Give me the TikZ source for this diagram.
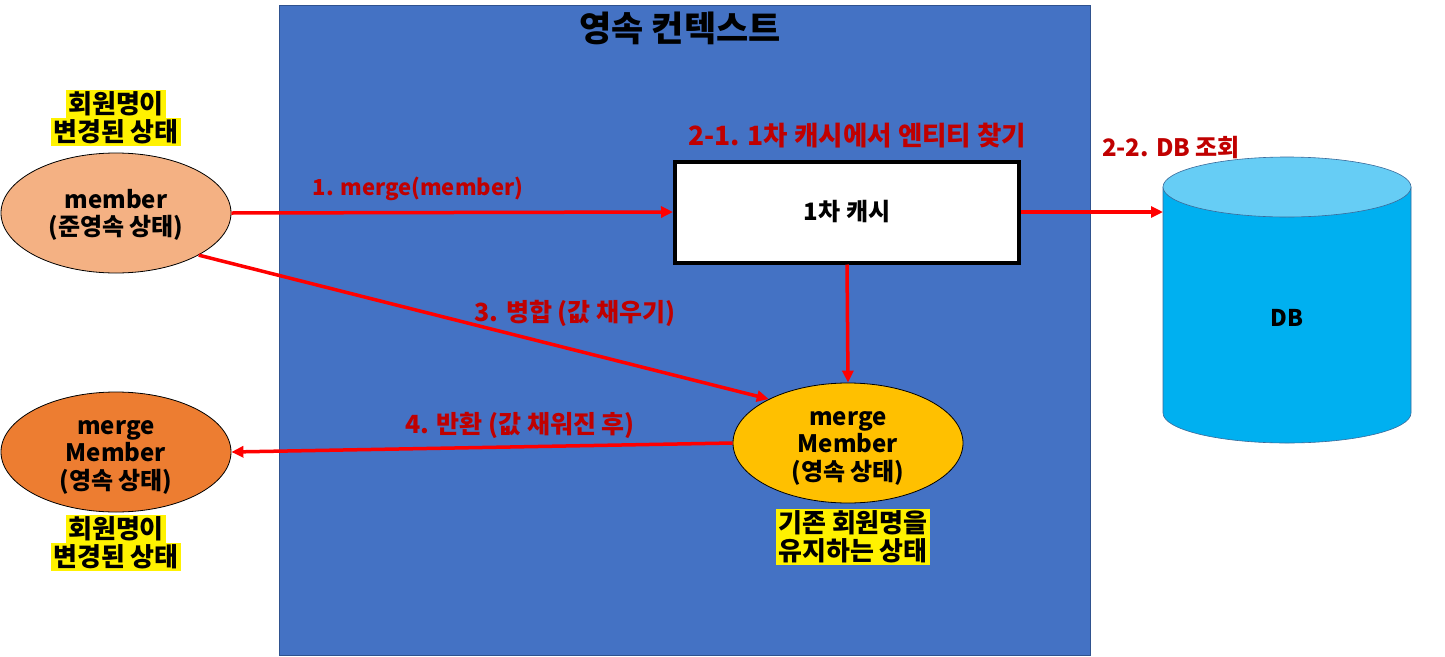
\documentclass[tikz,border=0pt]{standalone}
\usepackage{fontspec}
\setmainfont{Noto Sans CJK KR}
\usepackage{tikz}
\usetikzlibrary{arrows.meta, shapes.geometric}
\usepackage{xcolor}
\definecolor{ctxblue}{HTML}{4472C4}
\definecolor{ctxedge}{HTML}{2F528F}
\definecolor{labelred}{HTML}{C00000}
\definecolor{detached}{HTML}{F4B183}
\definecolor{managedout}{HTML}{ED7D31}
\definecolor{managedin}{HTML}{FFC000}
\definecolor{dbbody}{HTML}{00B0F0}
\definecolor{dbtop}{HTML}{66CDF5}
\definecolor{dbedge}{HTML}{3A6A9A}

\begin{document}
\begin{tikzpicture}[x=1pt, y=-1pt,
  redarrow/.style={draw=red, line width=3.5pt, -{Triangle[length=12pt, width=11pt]}},
  steplabel/.style={text=labelred, font=\fontsize{25}{29}\selectfont\bfseries},
  entity/.style={ellipse, draw=black, line width=0.8pt, minimum width=230, minimum height=120,
    align=center, inner sep=0pt, font=\fontsize{24}{27.5}\selectfont\bfseries},
  hilite/.style={fill=yellow, inner xsep=2pt, inner ysep=1pt, text height=22pt, text depth=4pt,
    font=\fontsize{26}{30}\selectfont\bfseries}]

\useasboundingbox (0,0) rectangle (1445,656);

% Persistence context
\draw[ctxedge, fill=ctxblue, line width=1pt] (279,5) rectangle (1090,655);
\node[font=\fontsize{35}{40}\selectfont\bfseries] (ctxtitle) at (680,28) {영속 컨텍스트};

% First-level cache
\node[draw=black, fill=white, line width=4pt, minimum width=344, minimum height=101,
  font=\fontsize{24}{28}\selectfont\bfseries] (cache) at (847,212) {1차 캐시};
\node[steplabel, font=\fontsize{26.5}{30}\selectfont\bfseries] (lookup) at (857,136) {2-1. 1차 캐시에서 엔티티 찾기};

% Database cylinder
\draw[dbedge, fill=dbbody, line width=0.6pt] (1163,187) -- (1163,413)
  arc[start angle=180, end angle=0, x radius=124, y radius=30] -- (1411,187) -- cycle;
\draw[dbedge, fill=dbtop, line width=0.6pt] (1287,187) ellipse [x radius=124, y radius=30];
\node[font=\fontsize{23}{27}\selectfont\bfseries] (db) at (1287,318) {DB};
\coordinate (dbin) at (1163,212);
\node[steplabel, font=\fontsize{24}{28}\selectfont\bfseries] (dbquery) at (1171,148) {2-2. DB 조회};

% Entities (a strut on the first line lowers the text a little)
\node[entity, fill=detached] (member) at (116,213) {\rule{0pt}{23pt}member\\(준영속 상태)};
\node[entity, fill=managedin] (merged) at (848,443) {\rule{0pt}{24pt}merge\\Member\\(영속 상태)};
\node[entity, fill=managedout] (result) at (116,452) {\rule{0pt}{24pt}merge\\Member\\(영속 상태)};

% State notes
\node[hilite] (note1a) at (116,104) {회원명이};
\node[hilite] (note1b) at (116,132) {변경된 상태};
\node[hilite] (note2a) at (853,523) {기존 회원명을};
\node[hilite] (note2b) at (853,551) {유지하는 상태};
\node[hilite] (note3a) at (116,529) {회원명이};
\node[hilite] (note3b) at (116,557) {변경된 상태};

% Flow
\draw[redarrow] (member.east) -- (cache.west);
\node[steplabel, font=\fontsize{22}{26}\selectfont\bfseries] (stepmerge) at (418,189) {1. merge(member)};
\draw[redarrow] (cache.east) -- (dbin);
\draw[redarrow] (cache.south) -- (merged.north);
\draw[redarrow] (member.-27) -- (merged.151);
\node[steplabel] (stepfill) at (575,313) {3. 병합 (값 채우기)};
\draw[redarrow] (merged.west) -- (result.east);
\node[steplabel] (stepreturn) at (520,425) {4. 반환 (값 채워진 후)};

\end{tikzpicture}
\end{document}
